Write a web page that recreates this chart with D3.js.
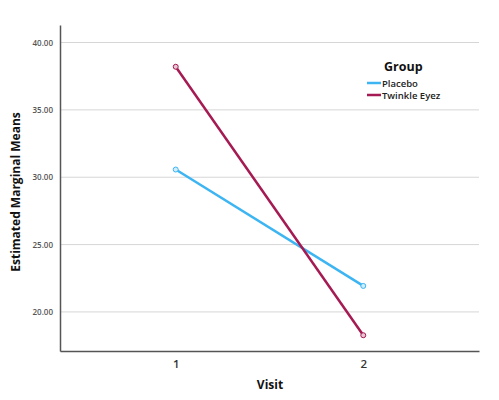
<!DOCTYPE html>
<html>
<head>
<meta charset="utf-8">
<script src="https://cdn.jsdelivr.net/npm/d3@7"></script>
<style>
  body { margin: 0; background: #fff; }
  text { font-family: "Open Sans", "DejaVu Sans", sans-serif; }
</style>
</head>
<body>
<svg id="chart" width="499" height="400"></svg>
<script>
var visits = [1, 2];
var groups = ['Placebo', 'Twinkle Eyez'];
var placeboMeans = [30.57, 21.93];
var twinkleMeans = [38.2, 18.27];
var yTicks = [20, 25, 30, 35, 40];
var colors = ['#3db5f2', '#a51a52'];

var svg = d3.select('#chart');
// plot edges (avoid the global window.top)
var plotLeft = 60, plotRight = 479, plotTop = 25, plotBottom = 351;

var x = d3.scaleLinear().domain([0.383, 2.617]).range([plotLeft, plotRight]);
var y = d3.scaleLinear().domain([17.1, 41.3]).range([plotBottom, plotTop]);

// gridlines
svg.append('g')
  .selectAll('line')
  .data(yTicks)
  .enter().append('line')
  .attr('x1', plotLeft).attr('x2', plotRight)
  .attr('y1', (d) => y(d)).attr('y2', (d) => y(d))
  .attr('stroke', '#d6d6d6')
  .attr('stroke-width', 1);

// y axis
var yAxis = svg.append('g')
  .attr('transform', 'translate(' + plotLeft + ',0)')
  .call(d3.axisLeft(y).tickValues(yTicks).tickFormat(d3.format('.2f')).tickSize(0).tickPadding(7));
yAxis.select('.domain').attr('stroke', '#555').attr('stroke-width', 1.5);
yAxis.selectAll('text')
  .attr('font-size', 8).attr('font-weight', 600).attr('fill', '#555');

// x axis
var xAxis = svg.append('g')
  .attr('transform', 'translate(0,' + plotBottom + ')')
  .call(d3.axisBottom(x).tickValues(visits).tickFormat(d3.format('d')).tickSize(0).tickPadding(9));
xAxis.select('.domain').attr('stroke', '#555').attr('stroke-width', 1.5);
xAxis.selectAll('text')
  .attr('font-size', 11.5).attr('font-weight', 600).attr('fill', '#333');

// axis titles
svg.append('text')
  .attr('transform', 'translate(20,' + ((plotTop + plotBottom) / 2 + 4) + ') rotate(-90)')
  .attr('text-anchor', 'middle')
  .attr('font-size', 12).attr('font-weight', 'bold').attr('fill', '#111')
  .text('Estimated Marginal Means');

svg.append('text')
  .attr('x', 270).attr('y', 389)
  .attr('text-anchor', 'middle')
  .attr('font-size', 12).attr('font-weight', 'bold').attr('fill', '#111')
  .text('Visit');

// series
var series = [placeboMeans, twinkleMeans].map((vals, i) => ({
  name: groups[i],
  color: colors[i],
  points: visits.map((v, j) => ({ visit: v, mean: vals[j] }))
}));

var line = d3.line().x((d) => x(d.visit)).y((d) => y(d.mean));

var seriesG = svg.append('g')
  .selectAll('g')
  .data(series)
  .enter().append('g');

seriesG.append('path')
  .attr('d', (d) => line(d.points))
  .attr('fill', 'none')
  .attr('stroke', (d) => d.color)
  .attr('stroke-width', 2.5);

seriesG.selectAll('circle')
  .data((d) => d.points.map((p) => Object.assign({ color: d.color }, p)))
  .enter().append('circle')
  .attr('cx', (d) => x(d.visit))
  .attr('cy', (d) => y(d.mean))
  .attr('r', 2.5)
  .attr('fill', (d) => d3.interpolateRgb(d.color, '#fff')(0.75))
  .attr('stroke', (d) => d.color)
  .attr('stroke-width', 1);

// legend
var legend = svg.append('g');
legend.append('text')
  .attr('x', 384).attr('y', 71)
  .attr('font-size', 12.5).attr('font-weight', 'bold').attr('fill', '#111')
  .text('Group');

var items = legend.selectAll('g.item')
  .data(series)
  .enter().append('g')
  .attr('class', 'item')
  .attr('transform', (d, i) => 'translate(0,' + (83 + i * 12) + ')');

items.append('line')
  .attr('x1', 367).attr('x2', 381)
  .attr('stroke', (d) => d.color)
  .attr('stroke-width', 2.5);

items.append('text')
  .attr('x', 382).attr('y', 3.5)
  .attr('font-size', 9.5).attr('font-weight', 600).attr('fill', '#222')
  .text((d) => d.name);
</script>
</body>
</html>
